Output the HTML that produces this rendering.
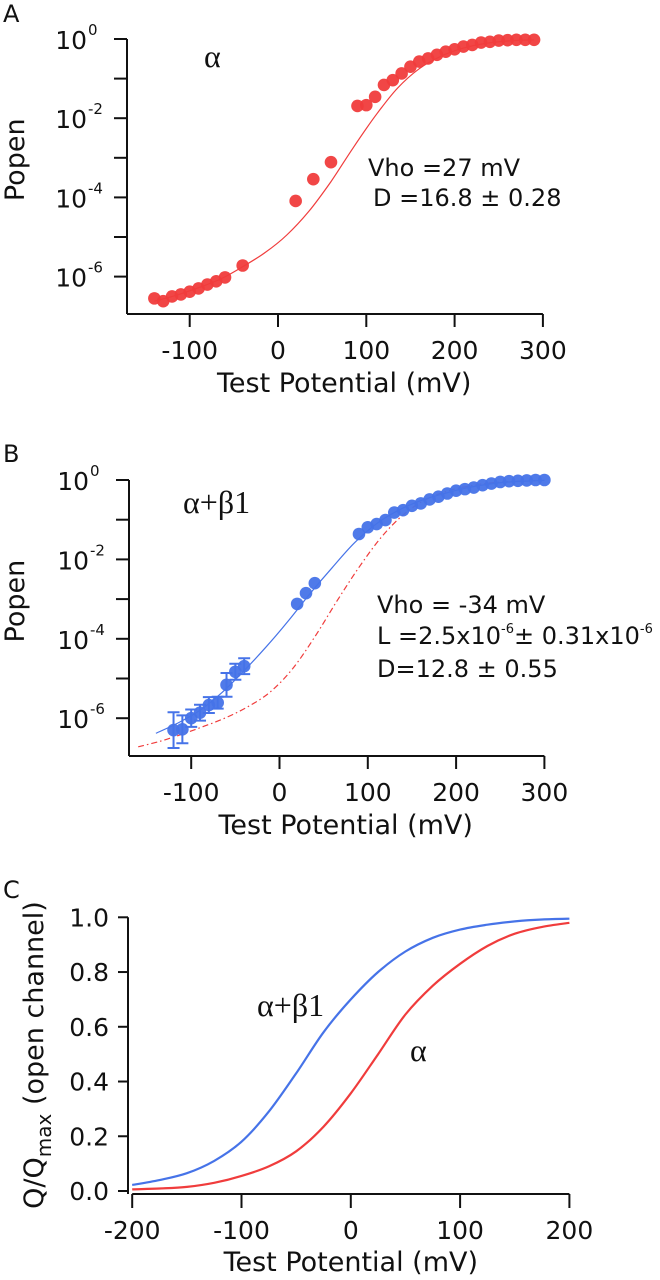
<!DOCTYPE html>
<html><head><meta charset="utf-8"><style>
html,body{margin:0;padding:0;background:#fff}
svg{display:block}
text{font-family:"DejaVu Sans","Liberation Sans",sans-serif;fill:#111}
.tick{font-size:25px}
.sup{font-size:15px}
.ttl{font-size:27px}
.ann{font-size:24px}
.greek{font-family:"Liberation Serif","DejaVu Serif",serif;font-size:32px}
.pl{font-size:24px}
</style></head><body>
<svg id="fig" width="660" height="1280" viewBox="0 0 660 1280" xmlns="http://www.w3.org/2000/svg">
<g id="gA"></g>
<g id="gB"></g>
<g id="gC"></g>
</svg>
<script>
// ---- Panel A data (log10 Popen) ----
const aV = [-140,-130,-120,-110,-100,-90,-80,-70,-60,-40,20,40,60,90,100,110,120,130,140,150,160,170,180,190,200,210,220,230,240,250,260,270,280,290];
const aLog = [-6.55,-6.62,-6.5,-6.45,-6.38,-6.3,-6.2,-6.12,-6.02,-5.72,-4.09,-3.54,-3.11,-1.69,-1.67,-1.46,-1.16,-1.04,-0.87,-0.70,-0.57,-0.49,-0.40,-0.32,-0.26,-0.19,-0.15,-0.09,-0.07,-0.04,-0.03,-0.02,-0.02,-0.02];
const aFitV = [-140,-115,-90,-65,-40,-15,10,35,60,85,110,135,160,185,210,235,260,290];
const aFitLog = [-6.62,-6.47,-6.28,-6.06,-5.75,-5.4,-4.95,-4.35,-3.6,-2.75,-1.95,-1.25,-0.75,-0.43,-0.23,-0.11,-0.05,-0.02];
// ---- Panel B data ----
const bV = [-120,-110,-100,-90,-80,-70,-60,-50,-40,20,30,40,90,100,110,120,130,140,150,160,170,180,190,200,210,220,230,240,250,260,270,280,290,300];
const bLog = [-6.30,-6.28,-6.0,-5.86,-5.67,-5.61,-5.16,-4.83,-4.69,-3.12,-2.85,-2.60,-1.36,-1.19,-1.11,-1.01,-0.82,-0.76,-0.65,-0.59,-0.49,-0.42,-0.34,-0.27,-0.23,-0.19,-0.13,-0.09,-0.05,-0.03,-0.02,-0.01,0,0];
const bErr = [0.45,0.35,0.22,0.2,0.2,0.15,0.3,0.2,0.2,0,0,0,0,0,0,0,0,0,0,0,0,0,0,0,0,0,0,0,0,0,0,0,0,0];
const bFitV = [-140,-115,-90,-65,-40,-15,10,35,60,85,110,135,160,185,210,235,260,300];
const bFitLog = [-6.38,-6.12,-5.8,-5.35,-4.8,-4.2,-3.55,-2.85,-2.2,-1.58,-1.1,-0.76,-0.52,-0.35,-0.21,-0.11,-0.05,-0.01];
const bAlphaV = [-160,-135,-110,-85,-60,-35,-10,15,40,65,90,115,140,165,190,215,240,270,300];
const bAlphaLog = [-6.72,-6.58,-6.4,-6.2,-5.98,-5.7,-5.33,-4.75,-3.95,-3.05,-2.2,-1.45,-0.88,-0.5,-0.28,-0.15,-0.07,-0.03,-0.01];
// ---- Panel C data ----
const cV = [-200,-175,-150,-125,-100,-75,-50,-25,0,25,50,75,100,125,150,175,200];
const cBeta = [0.022,0.04,0.065,0.11,0.18,0.29,0.43,0.58,0.70,0.80,0.875,0.925,0.955,0.973,0.985,0.992,0.995];
const cAlpha = [0.006,0.009,0.015,0.03,0.055,0.09,0.145,0.235,0.357,0.50,0.645,0.75,0.83,0.895,0.94,0.965,0.98];
// tick labels
const xTicksAB = [-100,0,100,200,300];
const yDecades = [0,-2,-4,-6];
const xTicksC = [-200,-100,0,100,200];
const yTicksC = [0,0.2,0.4,0.6,0.8,1.0];

const NS='http://www.w3.org/2000/svg';
function mk(tag,attrs,parent){const e=document.createElementNS(NS,tag);for(const k in attrs)e.setAttribute(k,attrs[k]);parent.appendChild(e);return e;}
function smooth(pts){let d='M'+pts[0][0].toFixed(1)+','+pts[0][1].toFixed(1);
 for(let i=0;i<pts.length-1;i++){const p0=pts[i-1]||pts[i],p1=pts[i],p2=pts[i+1],p3=pts[i+2]||p2;
  const c1=[p1[0]+(p2[0]-p0[0])/6,p1[1]+(p2[1]-p0[1])/6],c2=[p2[0]-(p3[0]-p1[0])/6,p2[1]-(p3[1]-p1[1])/6];
  d+=' C'+c1[0].toFixed(1)+','+c1[1].toFixed(1)+' '+c2[0].toFixed(1)+','+c2[1].toFixed(1)+' '+p2[0].toFixed(1)+','+p2[1].toFixed(1);}
 return d;}
const RED='#f03c3c', BLUE='#4673e8';

function logPanel(g,x,y,ax,label,labY){
 const l1=mk('line',{x1:ax.x0,y1:y(0),x2:ax.x0,y2:ax.yb,stroke:'#111','stroke-width':2},g);
  
 const l2=mk('line',{x1:ax.x0,y1:ax.yb,x2:x(300),y2:ax.yb,stroke:'#111','stroke-width':2},g);
  
 for(let d=0;d>=-6;d--){const t=mk('line',{x1:ax.x0-13,y1:y(d),x2:ax.x0,y2:y(d),stroke:'#111','stroke-width':2},g);
   }
 yDecades.forEach(d=>{const t=mk('text',{x:ax.x0-40,y:y(d)+10,'text-anchor':'end',class:'tick'},g);
   
  t.textContent='10';
  const s=mk('text',{x:ax.x0-39,y:y(d)-4,class:'sup'},g);
   
  s.textContent=String(d);});
 xTicksAB.forEach(v=>{const t=mk('line',{x1:x(v),y1:ax.yb,x2:x(v),y2:ax.yb+13,stroke:'#111','stroke-width':2},g);
   
  const tl=mk('text',{x:x(v),y:ax.yb+45,'text-anchor':'middle',class:'tick'},g);
   
  tl.textContent=String(v);});
 const xt=mk('text',{x:x(75),y:ax.yb+78,'text-anchor':'middle',class:'ttl'},g);
  
 xt.textContent='Test Potential (mV)';
 const yt=mk('text',{x:0,y:0,'text-anchor':'middle',class:'ttl',transform:'translate(24,'+(y(-3)+2)+') rotate(-90)'},g);
  
 yt.textContent='Popen';
 const pl=mk('text',{x:3,y:labY,class:'pl'},g);
  
 pl.textContent=label;
}

// Panel A
(function(){
 const g=document.getElementById('gA');
 const x=v=>278+v*0.883, y=l=>39-l*39.6;
 logPanel(g,x,y,{x0:127,yb:314},'A',22);
 const fit=mk('path',{d:smooth(aFitV.map((v,i)=>[x(v),y(aFitLog[i])])),fill:'none',stroke:RED,'stroke-width':1.2},g);
  
 aV.forEach((v,i)=>{const c=mk('circle',{cx:x(v),cy:y(aLog[i]),r:6.3,fill:RED,opacity:0.95},g);
   });
 const gl=mk('text',{x:204,y:67,class:'greek'},g);
  
 gl.textContent='α';
 const a1=mk('text',{x:368,y:176,class:'ann'},g);
  
 a1.textContent='Vho =27 mV';
 const a2=mk('text',{x:373,y:206,class:'ann'},g);
  
 a2.textContent='D =16.8 ± 0.28';
})();

// Panel B
(function(){
 const g=document.getElementById('gB');
 const x=v=>279.5+v*0.883, y=l=>480-l*39.7;
 logPanel(g,x,y,{x0:129,yb:756},'B',462);
 const ra=mk('path',{d:smooth(bAlphaV.map((v,i)=>[x(v),y(bAlphaLog[i])])),fill:'none',stroke:RED,'stroke-width':1.2,'stroke-dasharray':'6,3,1.5,3'},g);
  
 const fit=mk('path',{d:smooth(bFitV.map((v,i)=>[x(v),y(bFitLog[i])])),fill:'none',stroke:BLUE,'stroke-width':1.2},g);
  
 bV.forEach((v,i)=>{
  if(bErr[i]>0){const e=bErr[i];
   const eb=mk('path',{d:'M'+x(v)+','+y(bLog[i]+e)+'V'+y(bLog[i]-e)+'M'+(x(v)-6)+','+y(bLog[i]+e)+'h12M'+(x(v)-6)+','+y(bLog[i]-e)+'h12',stroke:BLUE,'stroke-width':2,fill:'none'},g);
    }
  const c=mk('circle',{cx:x(v),cy:y(bLog[i]),r:6.3,fill:BLUE,opacity:0.95},g);
   });
 const gl=mk('text',{x:183,y:513,class:'greek'},g);
  
 gl.textContent='α+β1';
 const a1=mk('text',{x:377,y:613,class:'ann'},g);
  
 a1.textContent='Vho = -34 mV';
 const a2=mk('text',{x:377,y:644,class:'ann'},g);
  
 a2.innerHTML='L =2.5x10<tspan dy="-11" font-size="13">-6</tspan><tspan dy="11">± 0.31x10</tspan><tspan dy="-11" font-size="13">-6</tspan>';
 const a3=mk('text',{x:377,y:677,class:'ann'},g);
  
 a3.textContent='D=12.8 ± 0.55';
})();

// Panel C
(function(){
 const g=document.getElementById('gC');
 const x=v=>350.8+v*1.093, y=q=>1191-q*273.7;
 const ya=mk('line',{x1:128,y1:y(1),x2:128,y2:1194,stroke:'#111','stroke-width':2},g);
  
 const xa=mk('line',{x1:x(-200),y1:1194,x2:x(200),y2:1194,stroke:'#111','stroke-width':2},g);
  
 yTicksC.forEach(q=>{const t=mk('line',{x1:118,y1:y(q),x2:128,y2:y(q),stroke:'#111','stroke-width':2},g);
   
  const tl=mk('text',{x:109,y:y(q)+9,'text-anchor':'end',class:'tick'},g);
   
  tl.textContent=q.toFixed(1);});
 xTicksC.forEach(v=>{const t=mk('line',{x1:x(v),y1:1194,x2:x(v),y2:1208,stroke:'#111','stroke-width':2},g);
   
  const tl=mk('text',{x:x(v),y:1239,'text-anchor':'middle',class:'tick'},g);
   
  tl.textContent=String(v);});
 const xt=mk('text',{x:x(0),y:1271,'text-anchor':'middle',class:'ttl'},g);
  
 xt.textContent='Test Potential (mV)';
 const yt=mk('text',{x:0,y:0,'text-anchor':'middle',class:'ttl',transform:'translate(43,1055) rotate(-90)'},g);
  
 yt.innerHTML='Q/Q<tspan dy="8" font-size="20">max</tspan><tspan dy="-8"> (open channel)</tspan>';
 const pl=mk('text',{x:3,y:898,class:'pl'},g);
  
 pl.textContent='C';
 const b=mk('path',{d:smooth(cV.map((v,i)=>[x(v),y(cBeta[i])])),fill:'none',stroke:BLUE,'stroke-width':2.2},g);
  
 const a=mk('path',{d:smooth(cV.map((v,i)=>[x(v),y(cAlpha[i])])),fill:'none',stroke:RED,'stroke-width':2.2},g);
  
 const l1=mk('text',{x:257,y:1016,class:'greek'},g);
  
 l1.textContent='α+β1';
 const l2=mk('text',{x:410,y:1061,class:'greek'},g);
  
 l2.textContent='α';
})();
</script>
</body></html>
